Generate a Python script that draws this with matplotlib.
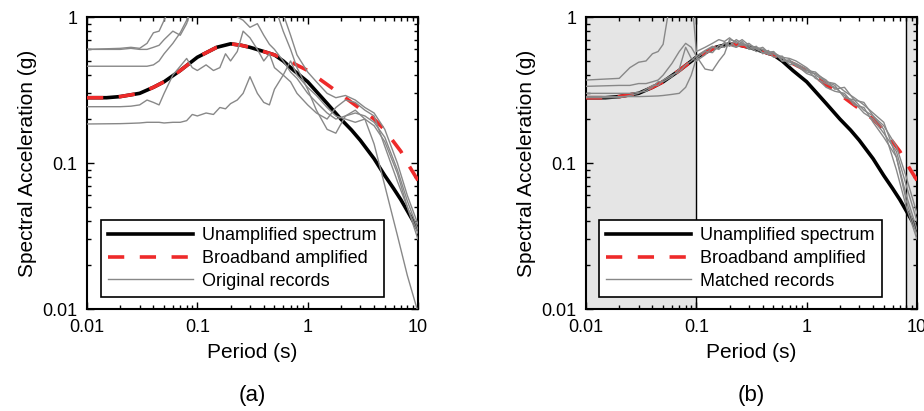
import matplotlib
matplotlib.use('Agg')
import matplotlib.pyplot as plt
import matplotlib.ticker as ticker
import numpy as np

plt.rcParams['font.family'] = ['Liberation Sans', 'DejaVu Sans']

# smooth target spectra
T_s = [0.01, 0.015, 0.02, 0.03, 0.04, 0.05, 0.07, 0.1, 0.15, 0.2, 0.25, 0.3, 0.4,
       0.5, 0.6, 0.75, 1.0, 1.5, 2.0, 2.5, 3.0, 4.0, 5.0, 6.0, 7.0, 8.0, 10.0]
unamplified = [0.28, 0.28, 0.285, 0.30, 0.33, 0.36, 0.43, 0.53, 0.62, 0.655, 0.64, 0.62, 0.58,
               0.55, 0.50, 0.43, 0.36, 0.256, 0.20, 0.168, 0.143, 0.107, 0.082, 0.067, 0.056, 0.047, 0.035]
broadband = [0.28, 0.28, 0.285, 0.30, 0.33, 0.36, 0.43, 0.53, 0.62, 0.655, 0.64, 0.62, 0.58,
             0.55, 0.52, 0.48, 0.43, 0.345, 0.295, 0.26, 0.235, 0.20, 0.168, 0.14, 0.12, 0.10, 0.076]

# record periods
T = [0.01, 0.02, 0.025, 0.03, 0.035, 0.04, 0.045, 0.05, 0.06, 0.07, 0.08, 0.09, 0.1,
     0.12, 0.14, 0.16, 0.18, 0.2, 0.23, 0.26, 0.3, 0.35, 0.4, 0.45, 0.5, 0.6, 0.7, 0.8,
     1.0, 1.2, 1.5, 1.8, 2.2, 2.7, 3.3, 4.0, 5.0, 6.5, 8.0, 10.0]

# (a) original records
orig1 = [0.60, 0.61, 0.62, 0.61, 0.66, 0.78, 0.80, 0.95, 1.3, 1.6, 1.8, 1.7, 1.6,
         1.5, 1.4, 1.3, 1.2, 1.1, 1.0, 0.95, 0.85, 0.90, 0.75, 0.65, 0.60, 0.50, 0.42, 0.38,
         0.30, 0.26, 0.22, 0.20, 0.21, 0.22, 0.21, 0.19, 0.15, 0.09, 0.055, 0.035]
orig2 = [0.46, 0.46, 0.46, 0.46, 0.46, 0.47, 0.50, 0.56, 0.66, 0.78, 0.95, 1.2, 1.4,
         1.6, 1.8, 1.9, 1.8, 1.7, 1.5, 1.3, 1.2, 1.1, 1.05, 1.0, 1.1, 1.05, 0.75, 0.55,
         0.42, 0.36, 0.30, 0.28, 0.29, 0.27, 0.24, 0.22, 0.17, 0.10, 0.06, 0.038]
orig3 = [0.243, 0.243, 0.245, 0.25, 0.27, 0.26, 0.25, 0.30, 0.40, 0.46, 0.52, 0.45, 0.43,
         0.47, 0.43, 0.45, 0.56, 0.50, 0.58, 0.80, 0.72, 0.60, 0.50, 0.56, 0.45, 0.40, 0.36, 0.30,
         0.25, 0.22, 0.20, 0.24, 0.27, 0.26, 0.23, 0.21, 0.13, 0.075, 0.05, 0.03]
orig4 = [0.185, 0.186, 0.187, 0.188, 0.19, 0.19, 0.19, 0.188, 0.19, 0.19, 0.195, 0.215, 0.21,
         0.22, 0.215, 0.24, 0.235, 0.255, 0.27, 0.30, 0.39, 0.30, 0.26, 0.25, 0.32, 0.40, 0.50, 0.40,
         0.33, 0.29, 0.24, 0.21, 0.20, 0.19, 0.20, 0.135, 0.07, 0.032, 0.017, 0.0095]
orig5 = [0.60, 0.60, 0.61, 0.60, 0.60, 0.62, 0.64, 0.70, 0.80, 0.75, 0.90, 1.2, 1.5,
         1.7, 1.6, 1.4, 1.3, 1.2, 1.1, 1.2, 1.3, 1.4, 1.2, 1.1, 1.2, 0.80, 0.60, 0.45,
         0.32, 0.23, 0.17, 0.16, 0.21, 0.23, 0.20, 0.18, 0.14, 0.085, 0.05, 0.033]

# (b) matched records
match1 = [0.37, 0.38, 0.45, 0.49, 0.50, 0.56, 0.58, 0.65, 1.5, 2.0, 1.5, 1.5, 0.58,
          0.62, 0.66, 0.70, 0.68, 0.72, 0.66, 0.70, 0.64, 0.62, 0.60, 0.58, 0.57, 0.53, 0.52, 0.50,
          0.45, 0.40, 0.36, 0.35, 0.31, 0.28, 0.25, 0.22, 0.19, 0.11, 0.06, 0.035]
match2 = [0.335, 0.34, 0.34, 0.35, 0.35, 0.36, 0.37, 0.40, 0.48, 0.58, 0.66, 0.62, 0.54,
          0.44, 0.43, 0.50, 0.56, 0.70, 0.68, 0.64, 0.66, 0.60, 0.62, 0.57, 0.58, 0.50, 0.50, 0.48,
          0.42, 0.41, 0.37, 0.32, 0.33, 0.27, 0.26, 0.21, 0.17, 0.09, 0.05, 0.03]
match3 = [0.30, 0.30, 0.30, 0.305, 0.31, 0.33, 0.36, 0.36, 0.39, 0.44, 0.62, 0.52, 0.50,
          0.55, 0.62, 0.60, 0.66, 0.63, 0.70, 0.66, 0.61, 0.63, 0.56, 0.59, 0.53, 0.54, 0.47, 0.48,
          0.44, 0.38, 0.35, 0.33, 0.29, 0.26, 0.22, 0.20, 0.16, 0.12, 0.07, 0.04]
match4 = [0.285, 0.285, 0.285, 0.285, 0.286, 0.287, 0.288, 0.29, 0.295, 0.30, 0.33, 0.40, 0.52,
          0.58, 0.57, 0.64, 0.62, 0.68, 0.62, 0.65, 0.63, 0.58, 0.60, 0.55, 0.56, 0.52, 0.49, 0.47,
          0.41, 0.39, 0.33, 0.31, 0.30, 0.25, 0.24, 0.19, 0.15, 0.11, 0.055, 0.032]
match5 = [0.28, 0.28, 0.29, 0.30, 0.32, 0.34, 0.34, 0.37, 0.40, 0.42, 0.47, 0.50, 0.54,
          0.59, 0.63, 0.61, 0.67, 0.64, 0.62, 0.68, 0.60, 0.61, 0.57, 0.56, 0.58, 0.50, 0.51, 0.46,
          0.43, 0.42, 0.36, 0.34, 0.28, 0.27, 0.23, 0.21, 0.18, 0.13, 0.08, 0.045]

original = [orig1, orig2, orig3, orig4, orig5]
matched = [match1, match2, match3, match4, match5]

fig = plt.figure(figsize=(9.24, 4.11), dpi=100)
ax_a = fig.add_axes([87/924, 1-309/411, 331/924, 292/411])
ax_b = fig.add_axes([586/924, 1-309/411, 331/924, 292/411])

red = '#ee2a2a'
grey = '#888888'


def draw_panel(ax, records, rec_label, letter, leg_x):
    ax.set_xscale('log')
    ax.set_yscale('log')
    hb, = ax.plot(T_s, unamplified, color='black', lw=2.6, zorder=3)
    hr, = ax.plot(T_s, broadband, color=red, lw=2.6, dashes=(4.5, 4.3), zorder=4)
    for rec in records:
        hg, = ax.plot(T, rec, color=grey, lw=1.0, zorder=5)
    ax.set_xlim(0.01, 10)
    ax.set_ylim(0.01, 1)
    fmt = ticker.FuncFormatter(lambda v, p: '%g' % v)
    ax.xaxis.set_major_formatter(fmt)
    ax.yaxis.set_major_formatter(fmt)
    ax.xaxis.set_major_locator(ticker.LogLocator(base=10, numticks=10))
    ax.xaxis.set_minor_locator(ticker.LogLocator(base=10, subs=np.arange(2, 10), numticks=10))
    ax.yaxis.set_minor_locator(ticker.LogLocator(base=10, subs=np.arange(2, 10), numticks=10))
    ax.xaxis.set_minor_formatter(ticker.NullFormatter())
    ax.yaxis.set_minor_formatter(ticker.NullFormatter())
    ax.tick_params(which='both', direction='in', top=True, right=True, labelsize=13, width=1)
    ax.tick_params(which='major', length=5, pad=7)
    ax.tick_params(which='minor', length=3)
    for s in ax.spines.values():
        s.set_linewidth(1.5)
    ax.set_xlabel('Period (s)', fontsize=15, labelpad=5)
    ax.set_ylabel('Spectral Acceleration (g)', fontsize=15, labelpad=4)
    leg = ax.legend([hb, hr, hg], ['Unamplified spectrum', 'Broadband amplified', rec_label],
                    loc='lower left', bbox_to_anchor=(leg_x, 0.041), borderaxespad=0,
                    fontsize=13, fancybox=False, edgecolor='black', framealpha=1,
                    handlelength=4.7, labelspacing=0.32, borderpad=0.4, handletextpad=0.5)
    leg.get_frame().set_linewidth(1.2)
    leg.set_zorder(10)
    ax.text(0.5, -0.295, letter, transform=ax.transAxes, ha='center', va='center', fontsize=16)


draw_panel(ax_a, original, 'Original records', '(a)', 0.042)

ax_b.axvspan(0.01, 0.1, color='#e5e5e5', zorder=0)
ax_b.axvspan(8, 10, color='#e5e5e5', zorder=0)
ax_b.axvline(0.1, color='black', lw=1, zorder=1)
ax_b.axvline(8, color='black', lw=1, zorder=1)
draw_panel(ax_b, matched, 'Matched records', '(b)', 0.039)

fig.savefig('out.png', dpi=100)
